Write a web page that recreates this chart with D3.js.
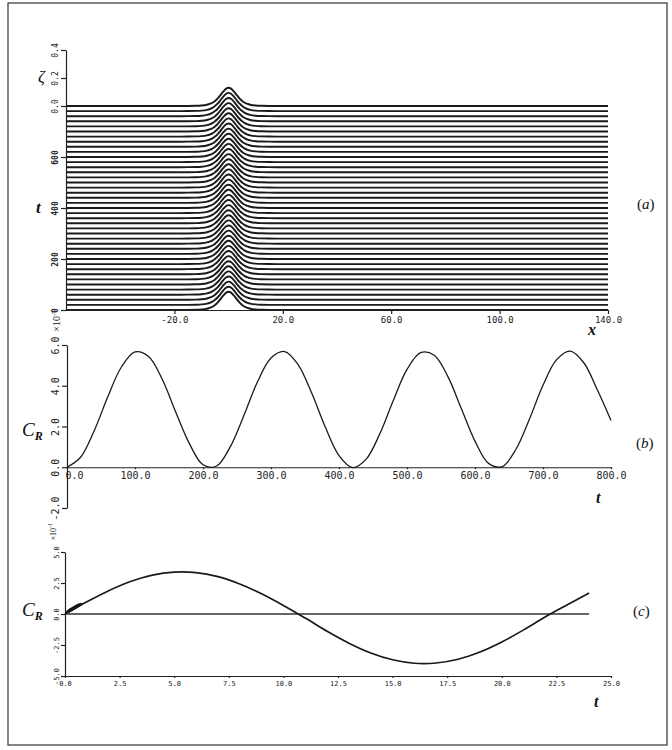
<!DOCTYPE html>
<html lang="en">
<head>
<meta charset="UTF-8">
<title>Wave profiles and C_R</title>
<script src="https://cdn.jsdelivr.net/npm/d3@7/dist/d3.min.js"></script>
<style>
    body { margin: 0; background: #fff; }
    .axis path, .axis line { stroke: #222; stroke-width: 1.2; }
    .axis text { fill: #222; font-family: "DejaVu Sans Mono", monospace; }
    .lbl { font-family: "Liberation Serif", serif; fill: #111; }
</style>
</head>
<body>
<svg width="672" height="750"></svg>
<script>
// ---- panel (a): surface profile, same shape at every output time
var profileX    = [-60, -20, -15, -12, -10, -8, -7, -6, -5, -4, -3, -2, -1, 0, 1, 2, 3, 4, 5, 6, 7, 8, 10, 12, 15, 20, 140];
var profileZeta = [0, 0, 0.0003, 0.0013, 0.0035, 0.0092, 0.0148, 0.0235, 0.0365, 0.0546, 0.0776, 0.1022, 0.1222, 0.130,
                   0.1222, 0.1022, 0.0776, 0.0546, 0.0365, 0.0235, 0.0148, 0.0092, 0.0035, 0.0013, 0.0003, 0, 0];
var traceTimes  = [0, 20, 40, 60, 80, 100, 120, 140, 160, 180, 200, 220, 240, 260, 280, 300, 320, 340, 360, 380, 400,
                   420, 440, 460, 480, 500, 520, 540, 560, 580, 600, 620, 640, 660, 680, 700, 720, 740, 760, 780, 800];
var xTicksA      = [-20, 20, 60, 100, 140];
var xTickLabelsA = ["-20.0", "20.0", "60.0", "100.0", "140.0"];
var tTicksA      = [0, 200, 400, 600];
var zetaTicks    = [0, 0.2, 0.4];

// ---- panel (b): C_R (x10^-5) against t
var tB  = [0, 20, 40, 60, 80, 100, 120, 140, 160, 180, 200, 220, 240, 260, 280, 300, 320, 340, 360, 380, 400,
           420, 440, 460, 480, 500, 520, 540, 560, 580, 600, 620, 640, 660, 680, 700, 720, 740, 760, 780, 800];
var crB = [0.0, 0.49, 1.79, 3.46, 4.92, 5.66, 5.44, 4.32, 2.70, 1.16, 0.12, 0.06, 1.00, 2.53, 4.18, 5.36, 5.68, 5.03, 3.63, 1.96, 0.57,
           -0.02, 0.40, 1.64, 3.29, 4.80, 5.63, 5.50, 4.46, 2.87, 1.28, 0.19, 0.03, 0.87, 2.36, 4.02, 5.28, 5.70, 5.13, 3.79, 2.30];
var xTicksB = [0, 100, 200, 300, 400, 500, 600, 700, 800];
var yTicksB = [-2, 0, 2, 4, 6];

// ---- panel (c): C_R (x10^-1) against t
var tC  = [0, 1, 2, 3, 4, 5, 6, 7, 8, 9, 10, 11, 12, 13, 14, 15, 16, 17, 18, 19, 20, 21, 22, 23, 24];
var crC = [0, 0.98, 1.88, 2.62, 3.14, 3.38, 3.34, 3.01, 2.42, 1.63, 0.69, -0.33, -1.39, -2.35, -3.14, -3.69, -3.97,
           -3.95, -3.65, -3.07, -2.26, -1.28, -0.22, 0.75, 1.70];
// thick start-up wedge near t = 0
var wedgeT     = [0, 0.2, 0.4, 0.6, 0.8];
var wedgeUpper = [0.15, 0.45, 0.65, 0.85, 0.9];
var wedgeLower = [0, 0.1, 0.3, 0.5, 0.75];
var xTicksC = [0, 2.5, 5, 7.5, 10, 12.5, 15, 17.5, 20, 22.5, 25];
var yTicksC = [-5, -2.5, 0, 2.5, 5];

var svg = d3.select("svg");

// outer frame
svg.append("rect").attr("x", 8).attr("y", 3).attr("width", 659).attr("height", 742)
    .attr("fill", "none").attr("stroke", "#444").attr("stroke-width", 1.3);

function rotateLabels(g, off) {
    g.selectAll(".tick text")
        .attr("transform", "rotate(-90)")
        .attr("x", 0).attr("y", -off).attr("dy", 0)
        .style("text-anchor", "middle");
}

// ================= (a)
var xA = d3.scaleLinear().domain([-60, 140]).range([66, 608]);
var tA = d3.scaleLinear().domain([0, 800]).range([310, 106]);
var zA = d3.scaleLinear().domain([0, 0.4]).range([106, 50]);
var zPx = function (z) { return zA(0) - zA(z); };

var profile = profileX.map(function (x, i) { return {x: x, z: profileZeta[i]}; });
var gA = svg.append("g");
traceTimes.slice().reverse().forEach(function (t) {
    var base = tA(t);
    var area = d3.area().curve(d3.curveMonotoneX)
        .x(function (d) { return xA(d.x); })
        .y0(base)
        .y1(function (d) { return base - zPx(d.z); });
    var line = d3.line().curve(d3.curveMonotoneX)
        .x(function (d) { return xA(d.x); })
        .y(function (d) { return base - zPx(d.z); });
    gA.append("path").attr("d", area(profile)).attr("fill", "#fff");
    gA.append("path").attr("d", line(profile)).attr("fill", "none")
        .attr("stroke", "#1a1a1a").attr("stroke-width", 1.9);
});

var axA = svg.append("g").attr("class", "axis").attr("transform", "translate(0,310)")
    .call(d3.axisBottom(xA).tickValues(xTicksA).tickFormat(function (d, i) { return xTickLabelsA[i]; })
        .tickSize(4).tickSizeOuter(0));
axA.selectAll("text").attr("font-size", 9);

var axT = svg.append("g").attr("class", "axis").attr("transform", "translate(66,0)")
    .call(d3.axisLeft(tA).tickValues(tTicksA).tickFormat(d3.format("d")).tickSize(5).tickSizeOuter(0));
axT.selectAll("text").attr("font-size", 8).attr("font-weight", "bold");
rotateLabels(axT, 8);

var axZ = svg.append("g").attr("class", "axis").attr("transform", "translate(66,0)")
    .call(d3.axisLeft(zA).tickValues(zetaTicks).tickFormat(function (d) { return d.toFixed(1); })
        .tickSize(5).tickSizeOuter(0));
axZ.selectAll("text").attr("font-size", 8);
rotateLabels(axZ, 8);

svg.append("text").attr("class", "lbl").attr("x", 38).attr("y", 82)
    .attr("font-size", 17).attr("font-style", "italic").text("ζ");
svg.append("text").attr("class", "lbl").attr("x", 36).attr("y", 213)
    .attr("font-size", 17).attr("font-style", "italic").attr("font-weight", "bold").text("t");
svg.append("text").attr("class", "lbl").attr("x", 588).attr("y", 335)
    .attr("font-size", 16).attr("font-style", "italic").attr("font-weight", "bold").text("x");

function panelTag(x, y, letter) {
    var t = svg.append("text").attr("class", "lbl").attr("x", x).attr("y", y).attr("font-size", 15);
    t.append("tspan").text("(");
    t.append("tspan").attr("font-style", "italic").text(letter);
    t.append("tspan").text(")");
}
panelTag(637, 209, "a");

// ================= (b)
var xB = d3.scaleLinear().domain([0, 800]).range([67, 611]);
var yB = d3.scaleLinear().domain([-2, 6]).range([508, 345]);

var axBx = svg.append("g").attr("class", "axis").attr("transform", "translate(0," + yB(0) + ")")
    .call(d3.axisBottom(xB).tickValues(xTicksB).tickFormat(function (d) { return d.toFixed(1); })
        .tickSize(2).tickSizeOuter(0));
axBx.selectAll("text").attr("font-size", 10);
axBx.selectAll("text").filter(function (d) { return d === 0; }).style("text-anchor", "start").attr("dx", -2);

var axBy = svg.append("g").attr("class", "axis").attr("transform", "translate(67,0)")
    .call(d3.axisLeft(yB).tickValues(yTicksB).tickFormat(function (d) { return d.toFixed(1); })
        .tickSize(5).tickSizeOuter(0));
axBy.selectAll("text").attr("font-size", 10);
rotateLabels(axBy, 8);

svg.append("path")
    .datum(tB.map(function (t, i) { return [t, crB[i]]; }))
    .attr("fill", "none").attr("stroke", "#1a1a1a").attr("stroke-width", 1.3)
    .attr("d", d3.line().curve(d3.curveCatmullRom.alpha(0.5))
        .x(function (d) { return xB(d[0]); }).y(function (d) { return yB(d[1]); }));

function expLabel(x, y, exp, size) {
    var t = svg.append("text").attr("class", "lbl")
        .attr("transform", "translate(" + x + "," + y + ") rotate(-90)")
        .attr("text-anchor", "middle").attr("font-size", size);
    t.append("tspan").text("×10");
    t.append("tspan").attr("font-size", size * 0.7).attr("dy", -size * 0.45).text(exp);
}
expLabel(60, 321, "-5", 10);

function crLabel(x, y) {
    var t = svg.append("text").attr("class", "lbl").attr("x", x).attr("y", y)
        .attr("font-size", 19).attr("font-style", "italic");
    t.append("tspan").text("C");
    t.append("tspan").attr("font-size", 12).attr("font-weight", "bold").attr("dy", 4).text("R");
}
crLabel(22, 436);
svg.append("text").attr("class", "lbl").attr("x", 596).attr("y", 503)
    .attr("font-size", 16).attr("font-style", "italic").attr("font-weight", "bold").text("t");
panelTag(636, 448, "b");

// ================= (c)
var xC = d3.scaleLinear().domain([0, 25]).range([65, 611]);
var yC = d3.scaleLinear().domain([-5, 5]).range([676, 552]);

var axCx = svg.append("g").attr("class", "axis").attr("transform", "translate(0," + yC(-5) + ")")
    .call(d3.axisBottom(xC).tickValues(xTicksC).tickFormat(function (d) { return d.toFixed(1); })
        .tickSize(2).tickSizeOuter(0));
axCx.selectAll("text").attr("font-size", 7);

var axCy = svg.append("g").attr("class", "axis").attr("transform", "translate(65,0)")
    .call(d3.axisLeft(yC).tickValues(yTicksC).tickFormat(function (d) { return d.toFixed(1); })
        .tickSize(4).tickSizeOuter(0));
axCy.selectAll("text").attr("font-size", 7);
rotateLabels(axCy, 6);

// zero line
svg.append("line").attr("x1", xC(0)).attr("x2", xC(24)).attr("y1", yC(0)).attr("y2", yC(0))
    .attr("stroke", "#333").attr("stroke-width", 1.3);

svg.append("path")
    .datum(wedgeT.map(function (t, i) { return [t, wedgeLower[i], wedgeUpper[i]]; }))
    .attr("fill", "#111")
    .attr("d", d3.area().x(function (d) { return xC(d[0]); })
        .y0(function (d) { return yC(d[1]); }).y1(function (d) { return yC(d[2]); }));

svg.append("path")
    .datum(tC.map(function (t, i) { return [t, crC[i]]; }))
    .attr("fill", "none").attr("stroke", "#1a1a1a").attr("stroke-width", 1.7)
    .attr("d", d3.line().curve(d3.curveCatmullRom.alpha(0.5))
        .x(function (d) { return xC(d[0]); }).y(function (d) { return yC(d[1]); }));

expLabel(56, 532, "-1", 8);
crLabel(22, 616);
svg.append("text").attr("class", "lbl").attr("x", 594).attr("y", 707)
    .attr("font-size", 16).attr("font-style", "italic").attr("font-weight", "bold").text("t");
panelTag(633, 616, "c");
</script>
</body>
</html>
